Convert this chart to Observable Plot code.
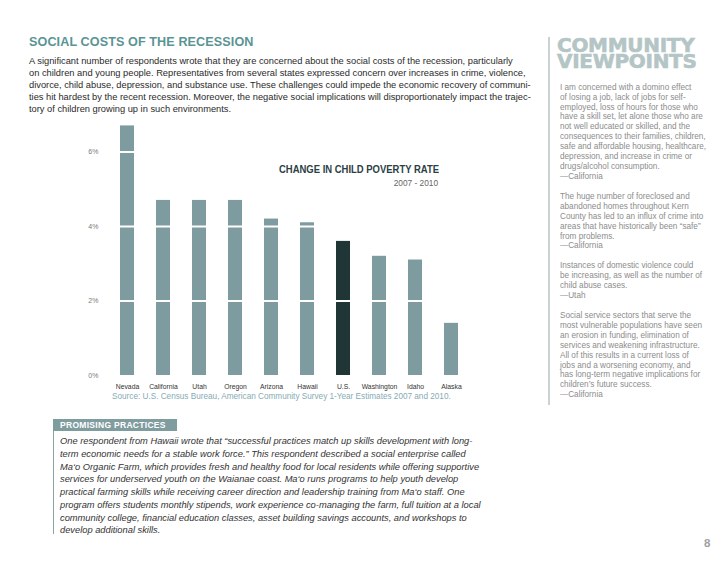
<!DOCTYPE html>
<html><head><meta charset="utf-8">
<script src="https://cdn.jsdelivr.net/npm/d3@7"></script>
<script src="https://cdn.jsdelivr.net/npm/@observablehq/plot@0.6"></script>
<style>
html,body{margin:0;padding:0;background:#fff;}
#page{position:relative;width:728px;height:563px;overflow:hidden;font-family:"Liberation Sans",Arial,Helvetica,sans-serif;}
.abs{position:absolute;white-space:nowrap;}
#title{left:29px;top:35.7px;font-size:12.6px;line-height:12.6px;font-weight:bold;color:#5a9494;letter-spacing:0.1px;}
#intro{left:29px;top:54.6px;font-size:9.3px;line-height:12.2px;color:#2a2a2a;}
#vline{left:548px;top:37px;width:2px;height:368px;background:#c9d3d3;}
.cv{left:557px;font-family:"DejaVu Sans",sans-serif;font-weight:bold;font-size:20px;line-height:16.5px;height:16.5px;color:#b4c5c5;letter-spacing:-0.3px;-webkit-text-stroke:0.6px #b4c5c5;}
#quotes{left:560px;top:82.7px;font-size:8.2px;line-height:9.92px;color:#8c8c8c;}
#ctitle{right:289px;top:163px;font-size:11px;line-height:12px;font-weight:bold;color:#2b4043;transform:scaleX(0.86);transform-origin:right center;}
#cyears{right:290px;top:178px;font-size:8.3px;line-height:10px;color:#666;}
#source{left:112px;top:392px;font-size:8.2px;line-height:9.4px;color:#86abb5;}
#pphead{left:53.3px;top:419.3px;width:123.4px;height:11.4px;background:#7f9c9f;}
#pphead span{position:absolute;left:6.7px;top:1.4px;font-size:8.5px;line-height:9px;font-weight:bold;color:#fff;letter-spacing:0.3px;}
#ppline{left:53px;top:431px;width:1px;height:103px;background:#8fa3a5;}
#ppbody{left:60px;top:435.3px;font-size:9.3px;line-height:12.7px;font-style:italic;color:#333;}
#pnum{left:704px;top:536.5px;font-size:11.5px;line-height:12px;font-weight:bold;color:#a0a0a0;}
</style></head>
<body><div id="page">
<div id="title" class="abs">SOCIAL COSTS OF THE RECESSION</div>
<div id="intro" class="abs">A significant number of respondents wrote that they are concerned about the social costs of the recession, particularly<br>on children and young people. Representatives from several states expressed concern over increases in crime, violence,<br>divorce, child abuse, depression, and substance use. These challenges could impede the economic recovery of communi-<br>ties hit hardest by the recent recession. Moreover, the negative social implications will disproportionately impact the trajec-<br>tory of children growing up in such environments.</div>
<div id="vline" class="abs"></div>
<div class="abs cv" style="top:36.6px">COMMUNITY</div>
<div class="abs cv" style="top:53.1px">VIEWPOINTS</div>
<div id="quotes" class="abs">I am concerned with a domino effect<br>of losing a job, lack of jobs for self-<br>employed, loss of hours for those who<br>have a skill set, let alone those who are<br>not well educated or skilled, and the<br>consequences to their families, children,<br>safe and affordable housing, healthcare,<br>depression, and increase in crime or<br>drugs/alcohol consumption.<br>—California<br><br>The huge number of foreclosed and<br>abandoned homes throughout Kern<br>County has led to an influx of crime into<br>areas that have historically been “safe”<br>from problems.<br>—California<br><br>Instances of domestic violence could<br>be increasing, as well as the number of<br>child abuse cases.<br>—Utah<br><br>Social service sectors that serve the<br>most vulnerable populations have seen<br>an erosion in funding, elimination of<br>services and weakening infrastructure.<br>All of this results in a current loss of<br>jobs and a worsening economy, and<br>has long-term negative implications for<br>children’s future success.<br>—California</div>
<div id="ctitle" class="abs">CHANGE IN CHILD POVERTY RATE</div>
<div id="cyears" class="abs">2007 - 2010</div>
<div id="source" class="abs">Source: U.S. Census Bureau, American Community Survey 1-Year Estimates 2007 and 2010.</div>
<div id="pphead" class="abs"><span>PROMISING PRACTICES</span></div>
<div id="ppline" class="abs"></div>
<div id="ppbody" class="abs">One respondent from Hawaii wrote that “successful practices match up skills development with long-<br>term economic needs for a stable work force.” This respondent described a social enterprise called<br>Ma‘o Organic Farm, which provides fresh and healthy food for local residents while offering supportive<br>services for underserved youth on the Waianae coast. Ma‘o runs programs to help youth develop<br>practical farming skills while receiving career direction and leadership training from Ma‘o staff. One<br>program offers students monthly stipends, work experience co-managing the farm, full tuition at a local<br>community college, financial education classes, asset building savings accounts, and workshops to<br>develop additional skills.</div>
<div id="pnum" class="abs">8</div>
</div>
<script>
const states = ["Nevada","California","Utah","Oregon","Arizona","Hawaii","U.S.","Washington","Idaho","Alaska"];
const changePct = [6.7, 4.7, 4.7, 4.7, 4.2, 4.1, 3.6, 3.2, 3.1, 1.4];
const yTicks = [0, 2, 4, 6];
const highlight = "U.S.";

const data = states.map((s, i) => ({state: s, value: changePct[i], kind: s === highlight ? "us" : "state"}));

const chart = Plot.plot({
  width: 480,
  height: 292,
  marginTop: 4.25,
  marginBottom: 27,
  marginLeft: 105.67,
  marginRight: 7.7,
  style: {fontFamily: "'Liberation Sans', Arial, sans-serif", background: "transparent", overflow: "visible"},
  x: {domain: states, paddingInner: 0.61, paddingOuter: 0.305, axis: null},
  y: {domain: [0, 7], axis: null},
  color: {domain: ["state", "us"], range: ["#7e9b9f", "#1f3536"]},
  marks: [
    Plot.barY(data, {x: "state", y: "value", fill: "kind"}),
    Plot.ruleY([2, 4, 6], {stroke: "white", strokeWidth: 2}),
    Plot.axisX({tickSize: 0, tickPadding: 8.5, fontSize: 6.8, fill: "#333", label: null}),
    Plot.axisY(yTicks, {tickSize: 0, tickPadding: 7.7, fontSize: 7, fill: "#7a7a7a", tickFormat: d => d + "%", label: null})
  ]
});
chart.style.position = "absolute";
chart.style.left = "0px";
chart.style.top = "110px";
document.getElementById("page").appendChild(chart);
</script>
</body></html>
